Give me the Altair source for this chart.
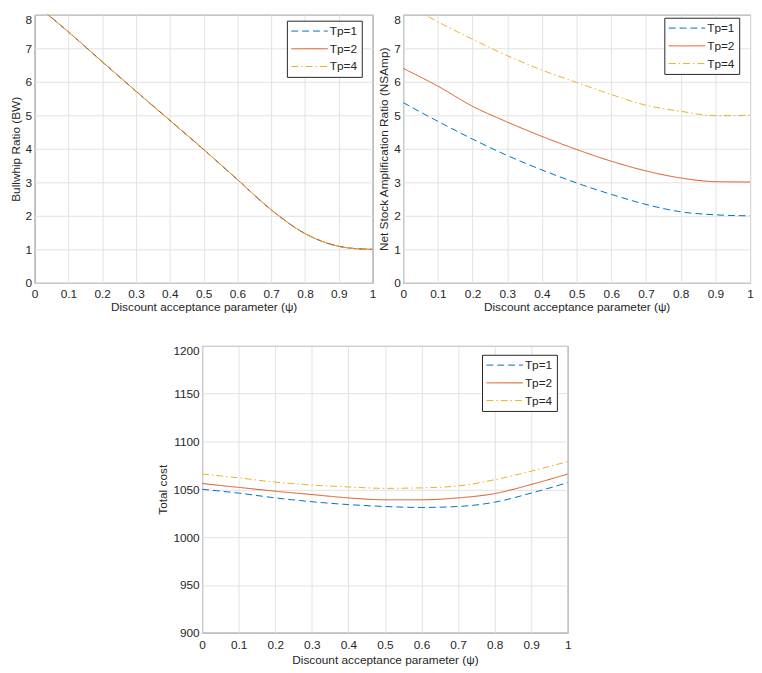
import altair as alt
import pandas as pd

# ---------------- data ----------------
series_names = ["Tp=1", "Tp=2", "Tp=4"]

psi_bw = [0.0, 0.1, 0.2, 0.3, 0.4, 0.5, 0.6, 0.7, 0.8, 0.85, 0.9, 0.95, 1.0]
bw_tp1 = [8.33, 7.49, 6.60, 5.72, 4.85, 3.98, 3.08, 2.18, 1.47, 1.24, 1.09, 1.02, 1.00]
bw_tp2 = [8.33, 7.49, 6.60, 5.72, 4.85, 3.98, 3.08, 2.18, 1.47, 1.24, 1.09, 1.02, 1.00]
bw_tp4 = [8.33, 7.49, 6.60, 5.72, 4.85, 3.98, 3.08, 2.18, 1.47, 1.24, 1.09, 1.02, 1.00]

psi = [0.0, 0.1, 0.2, 0.3, 0.4, 0.5, 0.6, 0.7, 0.8, 0.9, 1.0]
ns_tp1 = [5.38, 4.82, 4.29, 3.80, 3.37, 2.98, 2.64, 2.34, 2.12, 2.03, 2.00]
ns_tp2 = [6.40, 5.87, 5.27, 4.80, 4.37, 3.98, 3.63, 3.34, 3.13, 3.02, 3.01]
ns_tp4 = [8.35, 7.79, 7.27, 6.78, 6.35, 5.98, 5.62, 5.30, 5.12, 4.99, 5.00]

tc_tp1 = [1050, 1046, 1041, 1037, 1034, 1032, 1031, 1032, 1036.5, 1046, 1057]
tc_tp2 = [1056, 1052, 1048, 1044.5, 1041, 1039, 1039, 1041, 1045.5, 1055, 1066]
tc_tp4 = [1066, 1062, 1057.5, 1054.5, 1052.5, 1051, 1051.5, 1053.5, 1060, 1069, 1079]

x_ticks = [0, 0.1, 0.2, 0.3, 0.4, 0.5, 0.6, 0.7, 0.8, 0.9, 1]
y_ticks_ratio = [0, 1, 2, 3, 4, 5, 6, 7, 8]
y_ticks_cost = [900, 950, 1000, 1050, 1100, 1150, 1200]

colors = ["#0072BD", "#D95319", "#EDB120"]
dashes = [[7, 4], [1, 0], [7, 3, 1.5, 3]]

X_TITLE = "Discount acceptance parameter (\u03c8)"
TXT = "#262626"


def make_df(x, ys):
    rows = []
    for name, vals in zip(series_names, ys):
        for xv, yv in zip(x, vals):
            rows.append({"psi": xv, "value": yv, "series": name})
    return pd.DataFrame(rows)


def panel(df, ytitle, ydomain, yticks, w, h, lx, ly, lab_pad_x, ttl_pad_x, ttl_pad_y):
    legend = alt.Legend(
        title=None, orient="none", legendX=lx, legendY=ly,
        symbolType="M-3.083,0H3.083", symbolSize=144, symbolStrokeWidth=1,
        symbolOffset=12.5, labelOffset=14,
        labelFontSize=12, labelColor=TXT,
        padding=4, rowPadding=5,
        strokeColor="#262626", fillColor="white", cornerRadius=0,
    )
    top_val = ydomain[1]
    return alt.Chart(df).mark_line(strokeWidth=1, clip=True, interpolate="monotone").encode(
        x=alt.X("psi:Q", title=X_TITLE,
                scale=alt.Scale(domain=[0, 1], nice=False, zero=False),
                axis=alt.Axis(values=x_ticks, format="~g", labelPadding=lab_pad_x,
                              labelFlush=False, titlePadding=ttl_pad_x)),
        y=alt.Y("value:Q", title=ytitle,
                scale=alt.Scale(domain=ydomain, nice=False, zero=False),
                axis=alt.Axis(values=yticks, format="d", labelPadding=3,
                              labelBaseline={"condition": {"test": f"datum.value == {top_val}",
                                                           "value": "top"},
                                             "value": "middle"},
                              titlePadding=ttl_pad_y)),
        color=alt.Color("series:N", scale=alt.Scale(domain=series_names, range=colors),
                        legend=legend),
        strokeDash=alt.StrokeDash("series:N", scale=alt.Scale(domain=series_names, range=dashes),
                                  legend=legend),
    ).properties(width=w, height=h)


c1 = panel(make_df(psi_bw, [bw_tp1, bw_tp2, bw_tp4]), "Bullwhip Ratio (BW)",
           [0, 8], y_ticks_ratio, 343, 272, 256, 6, 6, 2, 3)
c2 = panel(make_df(psi, [ns_tp1, ns_tp2, ns_tp4]), "Net Stock Amplification Ratio (NSAmp)",
           [0, 8], y_ticks_ratio, 352, 272, 265, 3, 6, 2, 3)
c3 = panel(make_df(psi, [tc_tp1, tc_tp2, tc_tp4]), "Total cost",
           [900, 1200], y_ticks_cost, 371, 291, 284, 9, 7, 4, 3)

spacer = alt.Chart(pd.DataFrame({"s": [0]})).mark_point(opacity=0).properties(
    width=122, height=10, view=alt.ViewBackground(stroke="transparent")
)

top = alt.hconcat(c1, c2, spacing=0).resolve_scale(color="independent", strokeDash="independent")
bottom = alt.hconcat(spacer, c3, spacing=0).resolve_scale(color="independent", strokeDash="independent")

chart = alt.vconcat(top, bottom, spacing=31).resolve_scale(
    color="independent", strokeDash="independent"
).properties(
    padding=0
).configure(
    font="Liberation Sans",
).configure_view(
    stroke="#404040", strokeWidth=1,
).configure_axis(
    labelFont="Liberation Sans", titleFont="Liberation Sans",
    labelFontSize=12, titleFontSize=12, titleFontWeight="normal",
    labelColor=TXT, titleColor=TXT,
    domain=False, ticks=False, grid=True, gridColor="#e2e2e2", gridWidth=1,
).configure_legend(
    labelFont="Liberation Sans",
)

chart.save("out.html", embed_options={"renderer": "svg", "actions": False})
